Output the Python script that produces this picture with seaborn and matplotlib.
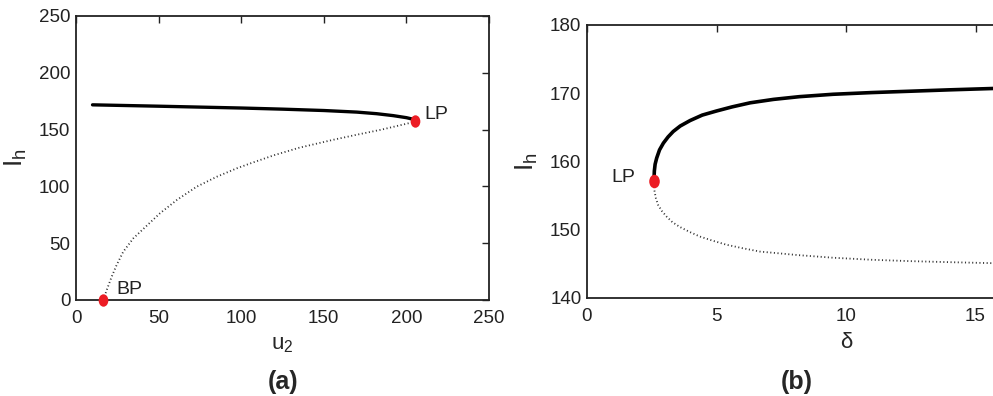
import numpy as np
import pandas as pd
import matplotlib
matplotlib.use("Agg")
import matplotlib.pyplot as plt
from matplotlib.path import Path
from matplotlib.transforms import Affine2D
import seaborn as sns

# ---- data ----
# panel (a): stable (solid) branch
a_stable_u2 = [10, 30, 50, 75, 100, 125, 150, 170, 182, 192, 200, 205]
a_stable_Ih = [171.8, 171.2, 170.6, 169.8, 169.0, 168.0, 166.8, 165.4, 164.0, 162.3, 160.5, 158.8]
# panel (a): unstable (dotted) branch, BP -> LP
a_unstable_u2 = [16.5, 18.6, 21.6, 24.6, 28.6, 34.7, 41.8, 50.8, 61, 73, 85.2, 97.3, 107, 120, 135, 155.6, 170, 185, 204]
a_unstable_Ih = [0, 8.8, 20.5, 30.8, 42.5, 54.3, 64, 76.3, 88, 99.7, 108.5, 115.9, 121, 127.5, 134, 141, 145.5, 150, 156.5]
# special points panel (a)
a_pts_u2 = [16.5, 205]
a_pts_Ih = [0, 157.8]
a_pts_lab = ["BP", "LP"]

# panel (b): stable (solid) branch
b_stable_d = [2.59, 2.6, 2.63, 2.69, 2.8, 2.95, 3.13, 3.33, 3.6, 3.98, 4.45, 5.0, 5.6, 6.3, 7.2, 8.2, 9.5, 11.0, 12.5, 14.0, 15.7, 18.0, 20.0]
b_stable_Ih = [157.6, 158.6, 159.6, 160.5, 161.7, 162.7, 163.6, 164.4, 165.2, 166.0, 166.8, 167.4, 168.0, 168.6, 169.1, 169.5, 169.85, 170.1, 170.3, 170.5, 170.7, 170.9, 171.0]
# panel (b): unstable (dotted) branch
b_unstable_d = [2.59, 2.6, 2.66, 2.75, 2.9, 3.08, 3.3, 3.59, 3.95, 4.36, 4.85, 5.39, 6.0, 6.68, 7.4, 8.1, 9.5, 11.0, 12.5, 14.0, 15.7, 18.0, 20.0]
b_unstable_Ih = [156.8, 155.8, 154.6, 153.6, 152.7, 151.9, 151.1, 150.4, 149.7, 149.0, 148.4, 147.8, 147.3, 146.8, 146.55, 146.3, 145.9, 145.6, 145.4, 145.25, 145.1, 144.95, 144.85]
b_pts_d = [2.59]
b_pts_Ih = [157.2]
b_pts_lab = ["LP"]

a_xticks = [0, 50, 100, 150, 200, 250]
a_yticks = [0, 50, 100, 150, 200, 250]
b_xticks = [0, 5, 10, 15, 20]
b_xticklabels = ["0", "5", "10", "15", ""]
b_yticks = [140, 150, 160, 170, 180]

RED = "#ec1c24"
ellipse = Path.unit_circle().transformed(Affine2D().scale(0.78, 1.0))

sns.set_theme(style="white")
plt.rcParams["font.family"] = ["Liberation Sans", "DejaVu Sans"]
plt.rcParams["mathtext.default"] = "regular"

fig = plt.figure(figsize=(9.93, 3.96), dpi=100)
W, H = 993.0, 396.0
axA = fig.add_axes([76 / W, 1 - 300 / H, (489 - 76) / W, (300 - 16) / H])
axB = fig.add_axes([587 / W, 1 - 298 / H, 518 / W, (298 - 25) / H])

def style_axes(ax):
    for s in ax.spines.values():
        s.set_linewidth(1.3)
        s.set_color("#222222")
    ax.tick_params(direction="in", length=5, width=1.0, top=True, right=True,
                   labelsize=13.5, pad=4, colors="#222222")
    ax.tick_params(axis="x", pad=7)

# ---- panel (a) ----
dfa_s = pd.DataFrame({"u2": a_stable_u2, "Ih": a_stable_Ih})
dfa_u = pd.DataFrame({"u2": a_unstable_u2, "Ih": a_unstable_Ih})
sns.lineplot(data=dfa_s, x="u2", y="Ih", sort=False, ax=axA, color="black", linewidth=2.4)
sns.lineplot(data=dfa_u, x="u2", y="Ih", sort=False, ax=axA, color="#333333",
             linewidth=1.3, linestyle=(0, (0.6, 1.4)))
sns.scatterplot(x=a_pts_u2, y=a_pts_Ih, ax=axA, color=RED, s=80, marker=ellipse,
                edgecolor=RED, linewidth=0, zorder=5, clip_on=False)
axA.text(24.5, 9, a_pts_lab[0], fontsize=14, va="center", ha="left", color="#222222")
axA.text(211, 163, a_pts_lab[1], fontsize=14, va="center", ha="left", color="#222222")
axA.set_xlim(0, 250)
axA.set_ylim(0, 250)
axA.set_xticks(a_xticks)
axA.set_yticks(a_yticks)
axA.set_xlabel("$u_2$", fontsize=16, labelpad=5)
axA.set_ylabel("$I_h$", fontsize=19, labelpad=7)
style_axes(axA)

# ---- panel (b) ----
dfb_s = pd.DataFrame({"d": b_stable_d, "Ih": b_stable_Ih})
dfb_u = pd.DataFrame({"d": b_unstable_d, "Ih": b_unstable_Ih})
sns.lineplot(data=dfb_s, x="d", y="Ih", sort=False, ax=axB, color="black", linewidth=2.6)
sns.lineplot(data=dfb_u, x="d", y="Ih", sort=False, ax=axB, color="#333333",
             linewidth=1.3, linestyle=(0, (0.6, 1.4)))
sns.scatterplot(x=b_pts_d, y=b_pts_Ih, ax=axB, color=RED, s=95, marker=ellipse,
                edgecolor=RED, linewidth=0, zorder=5)
axB.text(0.93, 157.6, b_pts_lab[0], fontsize=14, va="center", ha="left", color="#222222")
axB.set_xlim(0, 20)
axB.set_ylim(140, 180)
axB.set_xticks(b_xticks)
axB.set_xticklabels(b_xticklabels)
axB.set_yticks(b_yticks)
axB.set_xlabel("δ", fontsize=16, labelpad=5)
axB.set_ylabel("$I_h$", fontsize=19, labelpad=7)
style_axes(axB)

fig.text(283 / W, 1 - 382 / H, "(a)", fontsize=18, fontweight="bold", ha="center", va="center")
fig.text(797 / W, 1 - 382 / H, "(b)", fontsize=18, fontweight="bold", ha="center", va="center")

fig.savefig("out.png", dpi=100)
